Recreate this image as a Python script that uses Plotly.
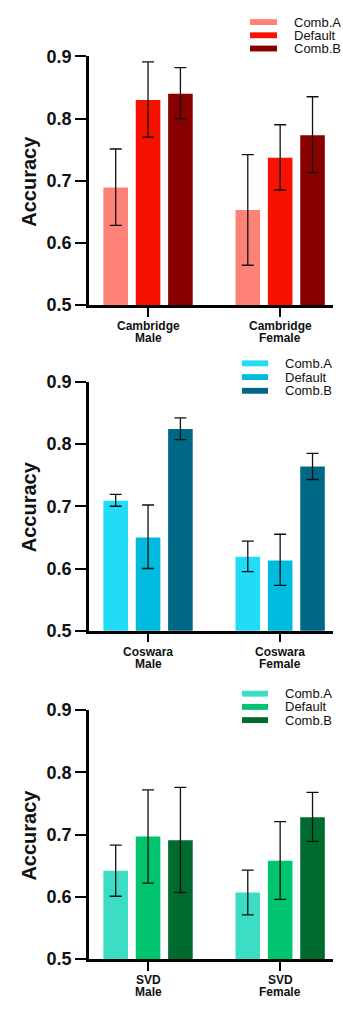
import plotly.graph_objects as go

W, H = 343, 1009

# ---------------- data ----------------
series = ["Comb.A", "Default", "Comb.B"]
datasets = ["Cambridge", "Coswara", "SVD"]
genders = ["Male", "Female"]

# mean accuracy [series][gender]
cam_mean = [[0.689, 0.653], [0.830, 0.737], [0.840, 0.773]]
cam_hi = [[0.751, 0.742], [0.891, 0.790], [0.882, 0.835]]
cam_lo = [[0.628, 0.564], [0.770, 0.685], [0.800, 0.713]]

cos_mean = [[0.709, 0.619], [0.650, 0.613], [0.824, 0.764]]
cos_hi = [[0.719, 0.644], [0.702, 0.655], [0.842, 0.785]]
cos_lo = [[0.700, 0.595], [0.600, 0.573], [0.807, 0.743]]

svd_mean = [[0.642, 0.607], [0.697, 0.658], [0.691, 0.728]]
svd_hi = [[0.683, 0.643], [0.772, 0.721], [0.776, 0.768]]
svd_lo = [[0.601, 0.571], [0.622, 0.596], [0.607, 0.689]]

yticks = [0.5, 0.6, 0.7, 0.8, 0.9]

# ---------------- styles ----------------
colors = [
    ["#FF8278", "#F51200", "#880000"],
    ["#22DBF7", "#00BBDD", "#006885"],
    ["#3DDCC4", "#00C46E", "#006B2F"],
]
means = [cam_mean, cos_mean, svd_mean]
his = [cam_hi, cos_hi, svd_hi]
los = [cam_lo, cos_lo, svd_lo]

# panel pixel geometry: (top_px of 0.9, bottom_px of 0.5)
panels_px = [(47.3, 301.0), (379.3, 633.3), (714.3, 968.3)]
# legend: swatch left, swatch right, text x, first entry y, step
legend_px = [
    (250, 277, 292, 12.3, 13.5),
    (242, 268, 283, 360.5, 14.0),
    (242, 268, 283, 697.5, 13.5),
]
x_left_px, x_right_px = 89.0, 333.0


def px_x(p):
    return p / W


def px_y(p):
    return 1 - p / H


FONT = "Liberation Sans, Arial, Helvetica, sans-serif"

fig = go.Figure()
annotations = []
shapes = []

for pi, ds in enumerate(datasets):
    ax_suffix = "" if pi == 0 else str(pi + 1)
    cats = [f"{ds} {g}" for g in genders]
    for si, s in enumerate(series):
        m = means[pi][si]
        up = [h - v for h, v in zip(his[pi][si], m)]
        dn = [v - l for v, l in zip(m, los[pi][si])]
        fig.add_trace(go.Bar(
            x=cats, y=m, name=s,
            marker=dict(color=colors[pi][si], line=dict(width=0)),
            error_y=dict(type="data", symmetric=False, array=up, arrayminus=dn,
                         color="#111111", thickness=1.3, width=6),
            xaxis="x" + ax_suffix, yaxis="y" + ax_suffix,
            showlegend=False,
        ))

    top, bot = panels_px[pi]
    xa = dict(
        domain=[px_x(x_left_px), px_x(x_right_px)],
        anchor="y" + ax_suffix,
        type="category",
        range=[-0.447, 1.40],
        showline=True, linecolor="black", linewidth=2.5,
        ticks="outside", ticklen=9, tickwidth=2.2, tickcolor="black",
        showticklabels=False,
        showgrid=False, zeroline=False, fixedrange=True,
    )
    ya = dict(
        domain=[px_y(bot), px_y(top)],
        anchor="x" + ax_suffix,
        range=[0.5, 0.9],
        tickvals=yticks, tickformat=".1f",
        showline=True, linecolor="black", linewidth=2.5,
        ticks="outside", ticklen=11, tickwidth=2.2, tickcolor="black",
        tickfont=dict(family=FONT, size=18, color="#111111", weight="bold"),
        showgrid=False, zeroline=False, fixedrange=True,
    )
    fig.update_layout(**{"xaxis" + ax_suffix: xa, "yaxis" + ax_suffix: ya})

    # two-line category labels under each tick
    for c, g in zip(cats, genders):
        for line_text, dy in ((ds, 21.8), (g, 33.6)):
            annotations.append(dict(
                text=line_text, xref="x" + ax_suffix, yref="paper",
                x=c, y=px_y(bot + dy), xanchor="center", yanchor="middle",
                showarrow=False,
                font=dict(family=FONT, size=12, color="#111111", weight="bold"),
            ))

    # y-axis title
    annotations.append(dict(
        text="Accuracy", textangle=-90, xref="paper", yref="paper",
        x=px_x(29), y=px_y((top + bot) / 2), xanchor="center", yanchor="middle",
        showarrow=False,
        font=dict(family=FONT, size=20, color="#111111", weight="bold"),
    ))

    # legend
    sx0, sx1, tx, ly0, step = legend_px[pi]
    for si, s in enumerate(series):
        cy = ly0 + si * step
        shapes.append(dict(
            type="rect", xref="paper", yref="paper",
            x0=px_x(sx0), x1=px_x(sx1), y0=px_y(cy + 3), y1=px_y(cy - 3),
            fillcolor=colors[pi][si], line=dict(width=0),
        ))
        annotations.append(dict(
            text=s, xref="paper", yref="paper", x=px_x(tx), y=px_y(cy),
            xanchor="left", yanchor="middle", showarrow=False,
            font=dict(family=FONT, size=13, color="#111111"),
        ))

fig.update_layout(
    width=W, height=H,
    margin=dict(l=0, r=0, t=0, b=0),
    paper_bgcolor="white", plot_bgcolor="white",
    barmode="group", bargap=0.265, bargroupgap=0.24,
    annotations=annotations, shapes=shapes,
    showlegend=False,
)

fig.write_html("out.html", config={"displayModeBar": False})
